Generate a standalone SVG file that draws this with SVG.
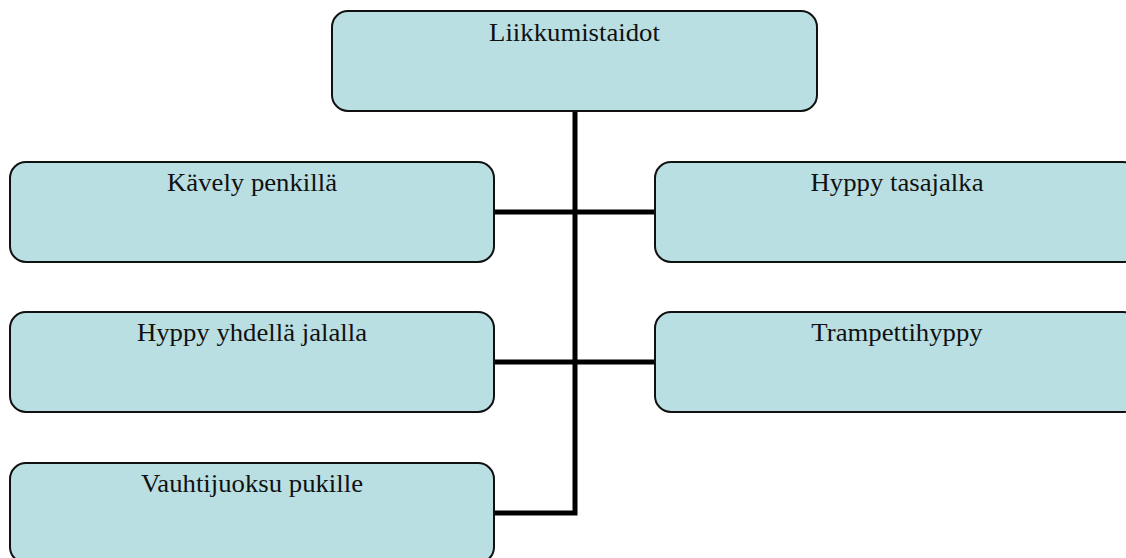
<svg xmlns="http://www.w3.org/2000/svg" width="1126" height="558" viewBox="0 0 1126 558">
<style>
.box{fill:#B9DFE2;stroke:#111;stroke-width:2}
.lbl{font-family:"Liberation Serif","Times New Roman",serif;font-size:25px;fill:#111;text-anchor:middle}
.conn{fill:none;stroke:#000;stroke-width:5;stroke-linejoin:miter}
</style>
<rect width="1126" height="558" fill="#fff"/>
<g id="connectors">
<path class="conn" d="M575 111 V513 H494"/>
<path class="conn" d="M494 212 H655"/>
<path class="conn" d="M494 362 H655"/>
</g>
<g id="n-liikkumistaidot"><rect class="box" x="332" y="11" width="485" height="100" rx="16"/><text class="lbl" transform="translate(574.5 41) scale(1.07 1)">Liikkumistaidot</text></g>
<g id="n-kavely"><rect class="box" x="10" y="162" width="484" height="100" rx="16"/><text class="lbl" transform="translate(252 191) scale(1.07 1)">Kävely penkillä</text></g>
<g id="n-tasajalka"><rect class="box" x="655" y="162" width="484" height="100" rx="16"/><text class="lbl" transform="translate(897 191) scale(1.07 1)">Hyppy tasajalka</text></g>
<g id="n-yhdella"><rect class="box" x="10" y="312" width="484" height="100" rx="16"/><text class="lbl" transform="translate(252 341) scale(1.07 1)">Hyppy yhdellä jalalla</text></g>
<g id="n-trampetti"><rect class="box" x="655" y="312" width="484" height="100" rx="16"/><text class="lbl" transform="translate(897 341) scale(1.07 1)">Trampettihyppy</text></g>
<g id="n-vauhtijuoksu"><rect class="box" x="10" y="463" width="484" height="100" rx="16"/><text class="lbl" transform="translate(252 492) scale(1.07 1)">Vauhtijuoksu pukille</text></g>
</svg>
